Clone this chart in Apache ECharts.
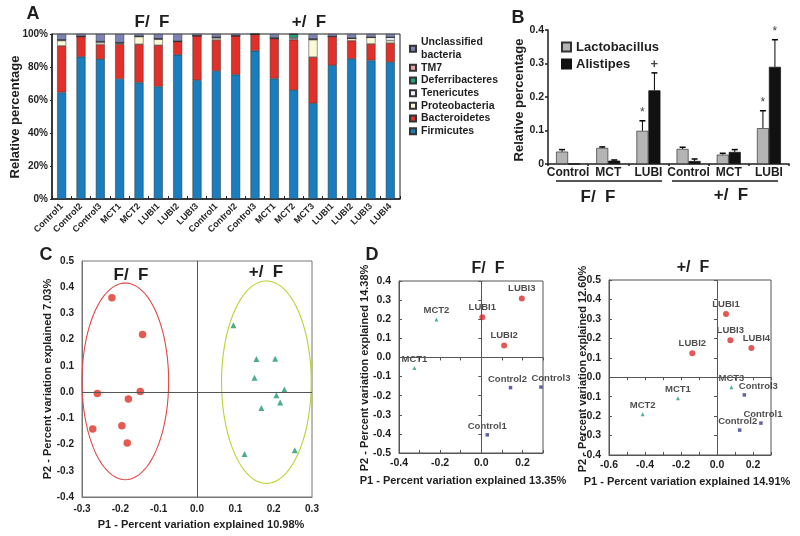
<!DOCTYPE html>
<html><head><meta charset="utf-8">
<script src="https://cdn.jsdelivr.net/npm/echarts@6/dist/echarts.min.js"></script>
<style>html,body{margin:0;padding:0;background:#fff}#c{width:800px;height:536px}</style>
</head><body><div id="c"></div><script>
const FONT = '"Liberation Sans", Arial, Helvetica, sans-serif';
const INK = '#1e1e1e';

// ---------- Panel A data (relative percentage, %) ----------
const samplesA = ['Control1','Control2','Control3','MCT1','MCT2','LUBI1','LUBI2','LUBI3',
                  'Control1','Control2','Control3','MCT1','MCT2','MCT3','LUBI1','LUBI2','LUBI3','LUBI4'];
const firmicutes      = [64.6,86.2,84.8,72.8,70.6,68.2,87.4,72.0, 77.6,75.4,89.8,73.0,66.0,58.0,81.0,85.0,84.0,83.0];
const bacteroidetes   = [28.2,12.2, 8.8,21.0,23.2,25.0, 8.0,27.0, 18.8,23.6,10.0,24.2,30.5,28.0,17.5,11.0,10.0,11.5];
const proteobacteria  = [ 3.2, 0.2, 1.2, 0.6, 4.6, 3.6, 0.2, 0.0,  1.2, 0.0, 0.0, 0.4, 0.8,10.5, 0.0, 1.5, 4.0, 1.5];
const tenericutes     = [ 0.5, 0.0, 0.6, 0.4, 0.2, 0.4, 0.0, 0.0,  0.4, 0.0, 0.0, 0.0, 0.5, 0.5, 0.0, 0.0, 0.0, 2.0];
const deferribacteres = [ 0.0, 0.0, 0.0, 0.0, 0.0, 0.0, 0.0, 0.0,  0.0, 0.0, 0.0, 0.0, 2.0, 0.0, 0.0, 0.0, 0.0, 0.0];
const tm7             = [ 0.0, 0.0, 0.0, 0.0, 0.0, 0.0, 0.0, 0.0,  0.0, 0.0, 0.0, 0.0, 0.0, 0.0, 0.0, 0.0, 0.0, 0.0];
const unclassified    = [ 3.5, 1.4, 4.6, 5.2, 1.4, 2.8, 4.4, 1.0,  2.0, 1.0, 0.2, 2.4, 0.2, 3.0, 1.5, 2.5, 2.0, 2.0];
const yTicksA = [0,20,40,60,80,100];

// ---------- Panel B data ----------
const groupsB = ['Control','MCT','LUBI','Control','MCT','LUBI'];
const lactobacillus    = [0.037,0.048,0.099,0.045,0.028,0.107];
const lactobacillusErr = [0.006,0.003,0.030,0.005,0.004,0.052];
const alistipes        = [0.000,0.010,0.220,0.009,0.036,0.290];
const alistipesErr     = [0.000,0.002,0.052,0.006,0.007,0.081];
const lactoMarks       = ['','','*','','','*'];
const alistipesMarks   = ['','','+','','','*'];

// ---------- Panel C data (PCoA) ----------
const ffP1 = [-0.222,-0.142,-0.260,-0.148,-0.179,-0.272,-0.196,-0.182];
const ffP2 = [ 0.360, 0.220,-0.005, 0.002,-0.026,-0.141,-0.128,-0.194];
const pfP1 = [0.095,0.155,0.204,0.150,0.228,0.207,0.217,0.168,0.124,0.255];
const pfP2 = [0.255,0.126,0.127,0.055,0.010,-0.012,-0.040,-0.061,-0.236,-0.222];
const ffEllipse = [-0.187,0.041,0.113,0.375]; // centre P1, centre P2, radius P1, radius P2
const pfEllipse = [ 0.181,0.038,0.117,0.386];

// ---------- Panel D data ----------
const dLeftNames = ['LUBI1','LUBI2','LUBI3','MCT1','MCT2','Control1','Control2','Control3'];
const dLeftP1    = [0.005,0.111,0.197,-0.325,-0.218,0.029,0.142,0.290];
const dLeftP2    = [0.210,0.063,0.308,-0.055,0.198,-0.405,-0.158,-0.155];
const dRightNames = ['LUBI1','LUBI2','LUBI3','LUBI4','MCT1','MCT2','MCT3','Control1','Control2','Control3'];
const dRightP1    = [0.050,-0.137,0.074,0.191,-0.217,-0.413,0.080,0.244,0.126,0.152];
const dRightP2    = [0.325,0.123,0.190,0.150,-0.108,-0.190,-0.051,-0.236,-0.272,-0.091];

// ================= styles =================
const phylumStyle = [
  ['Firmicutes', firmicutes, '#1a7dbd'],
  ['Bacteroidetes', bacteroidetes, '#e1302a'],
  ['Proteobacteria', proteobacteria, '#fbf8d6'],
  ['Tenericutes', tenericutes, '#eef2fa'],
  ['Deferribacteres', deferribacteres, '#23a57a'],
  ['TM7', tm7, '#f2a2a6'],
  ['Unclassified bacteria', unclassified, '#7c82b4']
];
const lbl = (size, extra) => Object.assign({fontFamily: FONT, fontWeight: 'bold', fontSize: size, color: INK}, extra || {});
const fmt1 = v => (Math.abs(v) < 1e-9 ? '0.0' : v.toFixed(1));
const evenOnly = v => (Math.abs(Math.round(v * 10)) % 2 === 0 ? fmt1(v) : '');

const grids = [
  {left: 52, top: 34, width: 348, height: 165, show: true, borderColor: INK, borderWidth: 1},
  {left: 548, top: 30, width: 241, height: 134},
  {left: 82, top: 261, width: 230, height: 236, show: true, borderColor: '#777', borderWidth: 1},
  {left: 399, top: 281, width: 144, height: 172, show: true, borderColor: '#555', borderWidth: 1},
  {left: 609, top: 280, width: 162, height: 175, show: true, borderColor: '#555', borderWidth: 1}
].map(g => Object.assign({containLabel: false, outerBoundsMode: 'none'}, g));

const xAxes = [
  {gridIndex: 0, type: 'category', data: samplesA.map((_, i) => String(i)),
   axisLine: {lineStyle: {color: INK, width: 1.5}},
   axisTick: {show: true, inside: true, length: 3, lineStyle: {color: INK}},
   axisLabel: Object.assign(lbl(9), {interval: 0, rotate: 45, margin: 6, formatter: v => samplesA[+v]})},
  {gridIndex: 1, type: 'category', data: groupsB.map((_, i) => String(i)),
   axisLine: {lineStyle: {color: INK, width: 1.5}},
   axisTick: {show: true, length: 2, lineStyle: {color: INK, width: 1.5}},
   axisLabel: Object.assign(lbl(12), {interval: 0, margin: 3, formatter: v => groupsB[+v]})},
  {gridIndex: 2, type: 'value', min: -0.3, max: 0.3, interval: 0.1,
   axisLine: {onZero: false, lineStyle: {color: '#777'}}, axisTick: {show: false}, splitLine: {show: false},
   axisLabel: Object.assign(lbl(10), {margin: 7, formatter: fmt1, showMinLabel: true, showMaxLabel: true})},
  {gridIndex: 3, type: 'value', min: -0.4, max: 0.3, interval: 0.1,
   axisLine: {onZero: false, lineStyle: {color: '#555'}}, axisTick: {show: true, inside: true, length: 3, lineStyle: {color: '#555'}}, splitLine: {show: false},
   axisLabel: Object.assign(lbl(10.5), {margin: 5, formatter: evenOnly, showMinLabel: true, showMaxLabel: true})},
  {gridIndex: 4, type: 'value', min: -0.6, max: 0.3, interval: 0.1,
   axisLine: {onZero: false, lineStyle: {color: '#555'}}, axisTick: {show: true, inside: true, length: 3, lineStyle: {color: '#555'}}, splitLine: {show: false},
   axisLabel: Object.assign(lbl(10.5), {margin: 5, formatter: evenOnly, showMinLabel: true, showMaxLabel: true})},
  // top tick axes for D
  {gridIndex: 3, type: 'value', position: 'top', min: -0.4, max: 0.3, interval: 0.1,
   axisLine: {show: false}, axisTick: {show: true, inside: true, length: 3, lineStyle: {color: '#555'}}, axisLabel: {show: false}, splitLine: {show: false}},
  {gridIndex: 4, type: 'value', position: 'top', min: -0.6, max: 0.3, interval: 0.1,
   axisLine: {show: false}, axisTick: {show: true, inside: true, length: 3, lineStyle: {color: '#555'}}, axisLabel: {show: false}, splitLine: {show: false}}
];

const yAxes = [
  {gridIndex: 0, type: 'value', min: 0, max: 100, interval: 20,
   axisLine: {show: true, lineStyle: {color: INK, width: 1.5}}, axisTick: {show: true, length: 2, lineStyle: {color: INK}},
   splitLine: {show: false}, axisLabel: Object.assign(lbl(10), {margin: 4, formatter: v => yTicksA.includes(v) ? v + '%' : ''})},
  {gridIndex: 1, type: 'value', min: 0, max: 0.4, interval: 0.1,
   axisLine: {show: true, lineStyle: {color: INK, width: 1.5}}, axisTick: {show: true, length: 3, lineStyle: {color: INK, width: 1.5}},
   splitLine: {show: false}, axisLabel: Object.assign(lbl(10.5), {margin: 4, formatter: v => (Math.abs(v) < 1e-9 ? '0' : v.toFixed(1))})},
  {gridIndex: 2, type: 'value', min: -0.4, max: 0.5, interval: 0.1,
   axisLine: {show: true, onZero: false, lineStyle: {color: '#777'}}, axisTick: {show: false}, splitLine: {show: false},
   axisLabel: Object.assign(lbl(10), {margin: 8, formatter: fmt1, showMinLabel: true, showMaxLabel: true})},
  {gridIndex: 3, type: 'value', min: -0.5, max: 0.4, interval: 0.1,
   axisLine: {show: true, onZero: false, lineStyle: {color: '#555'}}, axisTick: {show: true, inside: true, length: 3, lineStyle: {color: '#555'}}, splitLine: {show: false},
   axisLabel: Object.assign(lbl(10.5), {margin: 8, formatter: fmt1, showMinLabel: true, showMaxLabel: true})},
  {gridIndex: 4, type: 'value', min: -0.4, max: 0.5, interval: 0.1,
   axisLine: {show: true, onZero: false, lineStyle: {color: '#555'}}, axisTick: {show: true, inside: true, length: 3, lineStyle: {color: '#555'}}, splitLine: {show: false},
   axisLabel: Object.assign(lbl(10.5), {margin: 8, formatter: fmt1, showMinLabel: true, showMaxLabel: true})},
  {gridIndex: 3, type: 'value', position: 'right', min: -0.5, max: 0.4, interval: 0.1,
   axisLine: {show: false}, axisTick: {show: true, inside: true, length: 3, lineStyle: {color: '#555'}}, axisLabel: {show: false}, splitLine: {show: false}},
  {gridIndex: 4, type: 'value', position: 'right', min: -0.4, max: 0.5, interval: 0.1,
   axisLine: {show: false}, axisTick: {show: true, inside: true, length: 3, lineStyle: {color: '#555'}}, axisLabel: {show: false}, splitLine: {show: false}}
];

const series = [];
// Panel A stacked bars
phylumStyle.forEach(([name, vals, color]) => {
  series.push({name, type: 'bar', stack: 'A', xAxisIndex: 0, yAxisIndex: 0, barWidth: 9,
    itemStyle: {color, borderColor: '#333', borderWidth: 0.5}, data: vals, animation: false});
});

// Panel B bars
series.push({name: 'Lactobacillus', type: 'bar', xAxisIndex: 1, yAxisIndex: 1, barWidth: 12, barGap: '0%',
  itemStyle: {color: '#b4b4b4', borderColor: '#333', borderWidth: 0.7}, data: lactobacillus, animation: false});
series.push({name: 'Alistipes', type: 'bar', xAxisIndex: 1, yAxisIndex: 1, barWidth: 12, barGap: '0%',
  itemStyle: {color: '#111', borderColor: '#111', borderWidth: 0.7}, data: alistipes, animation: false});

function errorBars(vals, errs, marks, shift) {
  return {type: 'custom', xAxisIndex: 1, yAxisIndex: 1, z: 5, animation: false, silent: true,
    data: vals.map((v, i) => [i, v, errs[i]]),
    renderItem(params, api) {
      const i = api.value(0), v = api.value(1), e = api.value(2);
      const p0 = api.coord([i, v]), p1 = api.coord([i, v + e]);
      const x = p0[0] + shift;
      const ch = [];
      if (e > 0) {
        ch.push({type: 'line', shape: {x1: x, y1: p0[1], x2: x, y2: p1[1]}, style: {stroke: '#000', lineWidth: 1}});
        ch.push({type: 'line', shape: {x1: x - 3, y1: p1[1], x2: x + 3, y2: p1[1]}, style: {stroke: '#000', lineWidth: 1.5}});
      }
      const m = marks[params.dataIndex];
      if (m) ch.push({type: 'text', x: x, y: p1[1] - 2, style: {text: m, fill: '#444', font: (m === '*' ? '12px ' : 'bold 13px ') + FONT, textAlign: 'center', textVerticalAlign: 'bottom'}});
      return {type: 'group', children: ch};
    }};
}
series.push(errorBars(lactobacillus, lactobacillusErr, lactoMarks, -6));
series.push(errorBars(alistipes, alistipesErr, alistipesMarks, 6));

// Panel C
function ellipse(par, color) {
  return {type: 'custom', xAxisIndex: 2, yAxisIndex: 2, animation: false, silent: true, data: [par],
    encode: {x: 0, y: 1},
    renderItem(params, api) {
      const cx = api.value(0), cy = api.value(1), rx = api.value(2), ry = api.value(3);
      const pts = [];
      for (let k = 0; k < 120; k++) {
        const t = 2 * Math.PI * k / 120;
        pts.push(api.coord([cx + rx * Math.cos(t), cy + ry * Math.sin(t)]));
      }
      return {type: 'polygon', shape: {points: pts}, style: {fill: 'none', stroke: color, lineWidth: 1.1}};
    }};
}
const zeroLines = color => ({silent: true, symbol: ['none', 'none'], label: {show: false}, animation: false,
  lineStyle: {color, type: 'solid', width: 1}, data: [{xAxis: 0}, {yAxis: 0}]});
series.push({type: 'scatter', xAxisIndex: 2, yAxisIndex: 2, symbol: 'circle', symbolSize: 7.5,
  itemStyle: {color: '#de3226'}, data: ffP1.map((x, i) => [x, ffP2[i]]), animation: false, z: 3,
  markLine: zeroLines('#555')});
series.push({type: 'scatter', xAxisIndex: 2, yAxisIndex: 2, symbol: 'triangle', symbolSize: 6,
  itemStyle: {color: '#1f9a6c'}, data: pfP1.map((x, i) => [x, pfP2[i]]), animation: false, z: 3});
series.push(ellipse(ffEllipse, '#e04848'));
series.push(ellipse(pfEllipse, '#bcd234'));

// Panel D
const groupStyle = {
  LUBI: {symbol: 'circle', symbolSize: 6, color: '#d8302c'},
  MCT: {symbol: 'triangle', symbolSize: 4, color: '#2a9c78'},
  Control: {symbol: 'rect', symbolSize: 3.5, color: '#3b3c8e'}
};
const labelOffsets = {right: {Control3: [14, 0], LUBI4: [5, 0], Control2: [-2, 0], Control1: [2, 0]}, left: {Control3: [10, 0], Control2: [-3, 0]}};
function pcoaSeries(names, p1, p2, xi, yi, side) {
  Object.keys(groupStyle).forEach((g, gi) => {
    const st = groupStyle[g];
    const data = [];
    names.forEach((n, i) => {
      if (n.startsWith(g)) {
        const d = {name: n, value: [p1[i], p2[i]]};
        if (labelOffsets[side][n]) d.label = {offset: labelOffsets[side][n]};
        data.push(d);
      }
    });
    const s = {type: 'scatter', xAxisIndex: xi, yAxisIndex: yi, symbol: st.symbol, symbolSize: st.symbolSize,
      itemStyle: {color: st.color}, data, animation: false, z: 3,
      label: Object.assign(lbl(9.5), {show: true, position: 'top', distance: 2, formatter: p => p.name})};
    if (gi === 0) s.markLine = zeroLines('#555');
    series.push(s);
  });
}
pcoaSeries(dLeftNames, dLeftP1, dLeftP2, 3, 3, 'left');
pcoaSeries(dRightNames, dRightP1, dRightP2, 4, 4, 'right');

// ---------- text annotations ----------
const T = (text, x, y, size, opts) => Object.assign({type: 'text', x, y, silent: true,
  style: {text, fill: INK, font: 'bold ' + size + 'px ' + FONT, textAlign: 'center', textVerticalAlign: 'middle'}}, opts || {});
const R = (text, x, y, size) => T(text, x, y, size, {rotation: Math.PI / 2});
const graphic = [
  T('A', 33, 14, 18), T('B', 518, 18, 18), T('C', 46, 255, 18), T('D', 372, 255, 18),
  T('F/  F', 152, 22, 17), T('+/  F', 309, 22, 17),
  T('F/  F', 598, 197, 17), T('+/  F', 731, 195, 17),
  T('F/  F', 131, 275, 17), T('+/  F', 266, 272, 17),
  T('F/  F', 488, 269, 16), T('+/  F', 693, 268, 16),
  R('Relative percentage', 15, 117, 13),
  R('Relative percentage', 519, 100, 13),
  R('P2 - Percent variation explained 7.03%', 48, 379, 11),
  R('P2 - Percent variation explained 14.38%', 365, 368, 11),
  R('P2 - Percent variation explained 12.60%', 583, 369, 11),
  T('P1 - Percent variation explained 10.98%', 201, 525, 11),
  T('P1 - Percent variation explained 13.35%', 463, 481, 11),
  T('P1 - Percent variation explained 14.91%', 687, 482, 11),
  {type: 'line', silent: true, shape: {x1: 556, y1: 181, x2: 662, y2: 181}, style: {stroke: INK, lineWidth: 1.5}},
  {type: 'line', silent: true, shape: {x1: 672, y1: 181, x2: 778, y2: 181}, style: {stroke: INK, lineWidth: 1.5}}
];

const chart = echarts.init(document.getElementById('c'), null, {renderer: 'canvas'});
chart.setOption({
  animation: false,
  backgroundColor: '#fff',
  textStyle: {fontFamily: FONT},
  grid: grids, xAxis: xAxes, yAxis: yAxes, series, graphic,
  legend: [
    {data: ['Unclassified bacteria', 'TM7', 'Deferribacteres', 'Tenericutes', 'Proteobacteria', 'Bacteroidetes', 'Firmicutes'],
     orient: 'vertical', left: 404, top: 31, itemWidth: 6, itemHeight: 6, itemGap: 0, icon: 'rect', selectedMode: false,
     textStyle: lbl(10.5, {lineHeight: 12.7}), formatter: n => (n === 'Unclassified bacteria' ? 'Unclassified\nbacteria' : n)},
    {data: ['Lactobacillus', 'Alistipes'], orient: 'vertical', left: 556, top: 34, itemWidth: 9, itemHeight: 9, itemGap: 1,
     icon: 'rect', selectedMode: false, textStyle: lbl(13, {lineHeight: 16})}
  ]
});
</script></body></html>
